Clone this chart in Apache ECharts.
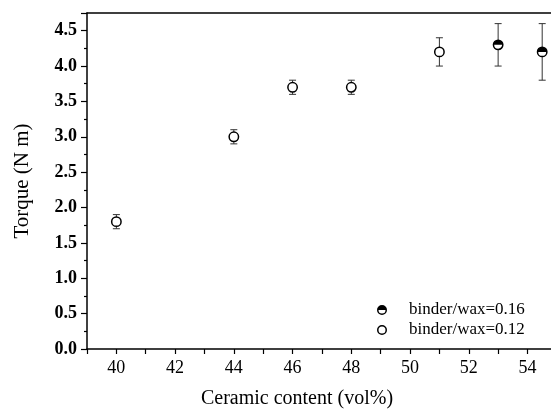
<!DOCTYPE html>
<html>
<head>
<meta charset="utf-8">
<script src="https://cdn.jsdelivr.net/npm/echarts@6/dist/echarts.min.js"></script>
<style>
  html, body { margin: 0; padding: 0; background: #fff; }
  #chart { width: 551px; height: 414px; }
</style>
</head>
<body>
<div id="chart"></div>
<script>
// binder/wax = 0.12 (open circles)
const x12 = [40, 44, 46, 48, 51];
const y12 = [1.8, 3.0, 3.7, 3.7, 4.2];
const err12 = [0.1, 0.1, 0.1, 0.1, 0.2];

// binder/wax = 0.16 (half filled circles)
const x16 = [53, 54.5];
const y16 = [4.3, 4.2];
const err16 = [0.3, 0.4];

const yTicks = [0, 0.5, 1.0, 1.5, 2.0, 2.5, 3.0, 3.5, 4.0, 4.5];
const xTicks = [40, 42, 44, 46, 48, 50, 52, 54];

const serif = '"Liberation Serif", "DejaVu Serif", serif';

const pts12 = x12.map((x, i) => [x, y12[i], err12[i]]);
const pts16 = x16.map((x, i) => [x, y16[i], err16[i]]);

// icons for legend (ring, and ring with top half filled)
const ringIcon = 'path://M0 -10A10 10 0 1 1 0 10A10 10 0 1 1 0 -10ZM0 -7A7 7 0 1 0 0 7A7 7 0 1 0 0 -7Z';
const halfIcon = 'path://M0 -10A10 10 0 1 1 0 10A10 10 0 1 1 0 -10ZM-7 0A7 7 0 0 0 7 0L-7 0Z';

function errorBar(params, api) {
  const x = api.value(0), y = api.value(1), e = api.value(2);
  const top = api.coord([x, y + e]);
  const bot = api.coord([x, y - e]);
  const w = 3.5;
  const style = { stroke: '#333', lineWidth: 1 };
  return {
    type: 'group',
    children: [
      { type: 'line', shape: { x1: top[0], y1: top[1], x2: bot[0], y2: bot[1] }, style: style },
      { type: 'line', shape: { x1: top[0] - w, y1: top[1], x2: top[0] + w, y2: top[1] }, style: style },
      { type: 'line', shape: { x1: bot[0] - w, y1: bot[1], x2: bot[0] + w, y2: bot[1] }, style: style }
    ]
  };
}

function marker(half) {
  return function (params, api) {
    const p = api.coord([api.value(0), api.value(1)]);
    const r = 4.7;
    const children = [
      { type: 'circle', shape: { cx: p[0], cy: p[1], r: r }, style: { fill: '#fff', stroke: '#000', lineWidth: 1.5 } }
    ];
    if (half) {
      children.push({
        type: 'sector',
        shape: { cx: p[0], cy: p[1], r0: 0, r: r, startAngle: Math.PI, endAngle: 2 * Math.PI, clockwise: true },
        style: { fill: '#000' }
      });
    }
    return { type: 'group', children: children };
  };
}

const chart = echarts.init(document.getElementById('chart'));
chart.setOption({
  animation: false,
  backgroundColor: '#fff',
  grid: { left: 87, top: 13, right: 0, bottom: 61 },
  legend: {
    orient: 'vertical',
    left: 372,
    top: 296,
    itemWidth: 10,
    itemHeight: 10,
    itemGap: 2,
    textStyle: { fontFamily: serif, fontSize: 17, color: '#000', padding: [0, 0, 0, 17], lineHeight: 18 },
    data: [
      { name: 'binder/wax=0.16', icon: halfIcon },
      { name: 'binder/wax=0.12', icon: ringIcon }
    ]
  },
  xAxis: [{
    type: 'value',
    min: 39,
    max: 54.8,
    interval: 1,
    name: 'Ceramic content (vol%)',
    nameLocation: 'middle',
    nameGap: 40,
    nameTextStyle: { fontFamily: serif, fontSize: 20, color: '#000', padding: [0, 44, 0, 0] },
    axisLine: { lineStyle: { color: '#000', width: 1.5 } },
    axisTick: { show: true, length: 5, lineStyle: { color: '#000', width: 1.2 } },
    axisLabel: {
      fontFamily: serif, fontSize: 18, color: '#000', margin: 10,
      showMaxLabel: false,
      formatter: v => (xTicks.indexOf(v) >= 0 ? String(v) : '')
    },
    splitLine: { show: false }
  }, {
    type: 'value',
    position: 'top',
    min: 39,
    max: 54.8,
    axisLine: { lineStyle: { color: '#000', width: 1.5 } },
    axisTick: { show: false },
    axisLabel: { show: false },
    splitLine: { show: false }
  }],
  yAxis: {
    type: 'value',
    min: 0,
    max: 4.75,
    interval: 0.5,
    name: 'Torque (N m)',
    nameLocation: 'middle',
    nameGap: 54,
    nameTextStyle: { fontFamily: serif, fontSize: 21, color: '#000' },
    axisLine: { show: true, lineStyle: { color: '#000', width: 1.5 } },
    axisTick: { show: true, length: 6, lineStyle: { color: '#000', width: 1.2 } },
    minorTick: { show: true, splitNumber: 2, length: 3, lineStyle: { color: '#000', width: 1.2 } },
    axisLabel: {
      fontFamily: serif, fontSize: 18, fontWeight: 'bold', color: '#000', margin: 10,
      showMaxLabel: false,
      formatter: v => (yTicks.indexOf(+v.toFixed(2)) >= 0 ? v.toFixed(1) : '')
    },
    splitLine: { show: false }
  },
  series: [
    {
      name: 'err12', type: 'custom', renderItem: errorBar, data: pts12, z: 2,
      encode: { x: 0, y: [1, 2] }
    },
    {
      name: 'err16', type: 'custom', renderItem: errorBar, data: pts16, z: 2,
      encode: { x: 0, y: [1, 2] }
    },
    {
      name: 'binder/wax=0.16', type: 'custom', renderItem: marker(true), data: pts16, z: 3,
      itemStyle: { color: '#000' }, encode: { x: 0, y: 1 }
    },
    {
      name: 'binder/wax=0.12', type: 'custom', renderItem: marker(false), data: pts12, z: 3,
      itemStyle: { color: '#000' }, encode: { x: 0, y: 1 }
    }
  ]
});
</script>
</body>
</html>
